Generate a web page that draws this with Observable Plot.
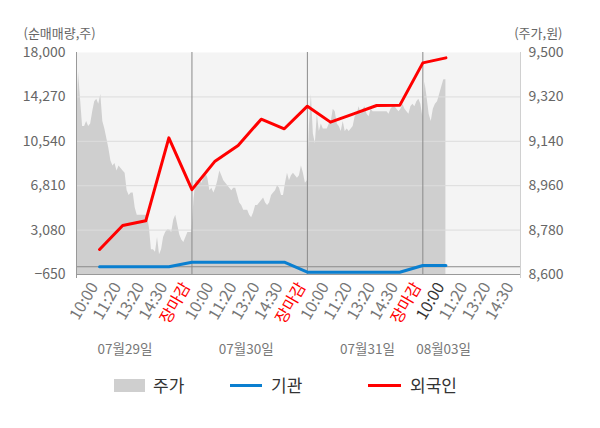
<!DOCTYPE html>
<html>
<head>
<meta charset="utf-8">
<script src="https://cdn.jsdelivr.net/npm/d3@7"></script>
<script src="https://cdn.jsdelivr.net/npm/@observablehq/plot@0.6"></script>
<style>
  html, body { margin: 0; padding: 0; background: #fff; }
  #wrap { position: relative; width: 600px; height: 428px; font-family: 'Noto Sans CJK KR', 'Noto Sans', sans-serif; }
  .lg { position: absolute; }
  .lgt { position: absolute; font-size: 17px; line-height: 20px; color: #333; top: 375px; }
</style>
</head>
<body>
<div id="wrap">
  <div id="chart"></div>
  <div class="lg" style="left:114px;top:379px;width:31px;height:13px;background:#cfcfcf"></div>
  <div class="lgt" style="left:153px">주가</div>
  <div class="lg" style="left:230px;top:384px;width:32px;height:3px;background:#0a7fd0"></div>
  <div class="lgt" style="left:271px">기관</div>
  <div class="lg" style="left:368px;top:384px;width:33px;height:3px;background:#ff0000"></div>
  <div class="lgt" style="left:410px">외국인</div>
</div>
<script>
// ---- data ----
const slotLabels = ["10:00","11:20","13:20","14:30","장마감",
                    "10:00","11:20","13:20","14:30","장마감",
                    "10:00","11:20","13:20","14:30","장마감",
                    "10:00","11:20","13:20","14:30"];
const dateLabels = ["07월29일","07월30일","07월31일","08월03일"];
const leftTicks = [-650, 3080, 6810, 10540, 14270, 18000];
const rightTicks = [8600, 8780, 8960, 9140, 9320, 9500];

// 외국인 / 기관 순매매량 (주), one value per slot 1..16
const foreign = [1450, 3470, 3860, 10830, 6480, 8870, 10190, 12400, 11590, 13490, 12150, 12850, 13550, 13560, 17130, 17550];
const inst = [0, 0, 0, 0, 380, 380, 380, 380, 380, -460, -460, -460, -460, -460, 110, 110];

// 주가 (원), intraday samples per day
const day1Price = [9180,9420,9310,9200,9200,9220,9200,9210,9260,9300,9310,9290,9330,9220,9190,9150,9110,9060,9040,9050,
  9020,9040,9030,9020,9010,8940,8920,8930,8930,8870,8840,8840,8840,8840,8840,8840,8790,8700,8700,8690,
  8750,8680,8700,8750,8770,8780,8780,8770,8820,8840,8800,8760,8740,8730,8750,8770,8770,8770];
const day2Price = [8900,8980,8980,8980,8970,8990,9010,8990,8940,8950,8930,8950,8980,9020,9000,8980,8970,8960,8950,8940,
  8950,8950,8920,8890,8880,8860,8860,8860,8840,8830,8850,8880,8880,8890,8900,8910,8890,8880,8890,8920,
  8930,8940,8960,8950,8920,8920,8970,9010,8980,9000,9010,9000,8990,9000,9040,9010,8970,8980];
const day3Price = [9200,9330,9170,9130,9250,9180,9210,9190,9190,9190,9210,9220,9270,9260,9210,9200,9180,9220,9180,9190,
  9180,9190,9200,9240,9250,9280,9250,9270,9280,9250,9240,9270,9260,9260,9260,9260,9260,9260,9260,9260,
  9250,9270,9280,9280,9270,9260,9270,9290,9270,9260,9250,9280,9290,9280,9300,9310,9290,9240];
const day4Price = [9380,9320,9250,9220,9270,9290,9300,9330,9360,9390,9390];

// ---- build ----
const yMin = -650, yMax = 18000, pMin = 8600, pMax = 9500;
const toS = p => yMin + (p - pMin) * (yMax - yMin) / (pMax - pMin);
const toP = s => pMin + (s - yMin) * (pMax - pMin) / (yMax - yMin);
const fmt = d3.format(",");

const pricePts = [];
day1Price.forEach((p, i) => pricePts.push({x: i * 5 / (day1Price.length - 1), p}));
day2Price.forEach((p, i) => pricePts.push({x: 5 + (i + 1) * 5 / day2Price.length, p}));
day3Price.forEach((p, i) => pricePts.push({x: 10 + (i + 1) * 5 / day3Price.length, p}));
day4Price.forEach((p, i) => pricePts.push({x: 15 + (i + 1) / day4Price.length, p}));

const flows = foreign.map((f, i) => ({x: i + 1, foreign: f, inst: inst[i]}));
const ticks = slotLabels.map((label, i) => ({x: i + 1, label, i}));
const closeTicks = ticks.filter(t => t.label === "장마감");
const nowTicks = ticks.filter(t => t.i === 15);
const grayTicks = ticks.filter(t => t.label !== "장마감" && t.i !== 15);
const dayBreaks = closeTicks.map(t => t.x);
const dateAnchors = [2.1, 7.35, 12.6, 15.9];
const dates = dateLabels.map((t, i) => ({x: dateAnchors[i], t}));

const W = 600, H = 366, xMax = 19.23;
const tickText = (data, fill) => Plot.text(data, {
  x: "x", text: "label", frameAnchor: "bottom", rotate: -60, textAnchor: "end",
  dy: 12, dx: -1, fill, fontSize: 16
});

const chart = Plot.plot({
  width: W, height: H,
  marginTop: 52, marginBottom: H - 274, marginLeft: 76, marginRight: 80,
  style: {fontFamily: "'Noto Sans CJK KR', 'Noto Sans', sans-serif", fontSize: "14px", background: "#fff", overflow: "visible"},
  x: {domain: [0, xMax], axis: null},
  y: {domain: [yMin, yMax]},
  marks: [
    Plot.frame({fill: "#f4f4f4", stroke: null}),
    Plot.areaY(pricePts, {x: "x", y1: yMin, y2: d => toS(d.p), fill: "#cfcfcf"}),
    Plot.ruleY(leftTicks.slice(1, -1), {stroke: "#dcdcdc", strokeWidth: 1}),
    Plot.ruleY([0], {stroke: "#8a8a8a"}),
    Plot.ruleX(dayBreaks, {stroke: "#8a8a8a"}),
    Plot.ruleX([0], {stroke: "#999", insetBottom: -4}),
    Plot.ruleX([xMax], {stroke: "#d0d0d0", insetBottom: -4}),
    Plot.ruleY([yMin], {stroke: "#999"}),
    Plot.line(flows, {x: "x", y: "inst", stroke: "#0a7fd0", strokeWidth: 3}),
    Plot.line(flows, {x: "x", y: "foreign", stroke: "#ff0000", strokeWidth: 3}),
    Plot.axisY(leftTicks, {anchor: "left", tickSize: 0, tickPadding: 11, tickFormat: fmt, fill: "#666", fontSize: 14, label: null}),
    Plot.axisY(rightTicks.map(toS), {anchor: "right", tickSize: 0, tickPadding: 8, tickFormat: d => fmt(Math.round(toP(d))), fill: "#666", fontSize: 14, label: null}),
    tickText(grayTicks, "#777"),
    tickText(closeTicks, "#ff0000"),
    tickText(nowTicks, "#333"),
    Plot.text(dates, {x: "x", text: "t", frameAnchor: "bottom", dy: 79, fill: "#777", fontSize: 13.5}),
    Plot.text(["(순매매량,주)"], {text: d => d, frameAnchor: "top-left", dx: -53, dy: -24, textAnchor: "start", fill: "#666", fontSize: 13}),
    Plot.text(["(주가,원)"], {text: d => d, frameAnchor: "top-right", dx: 42, dy: -24, textAnchor: "end", fill: "#666", fontSize: 13})
  ]
});
document.getElementById("chart").appendChild(chart);
</script>
</body>
</html>
